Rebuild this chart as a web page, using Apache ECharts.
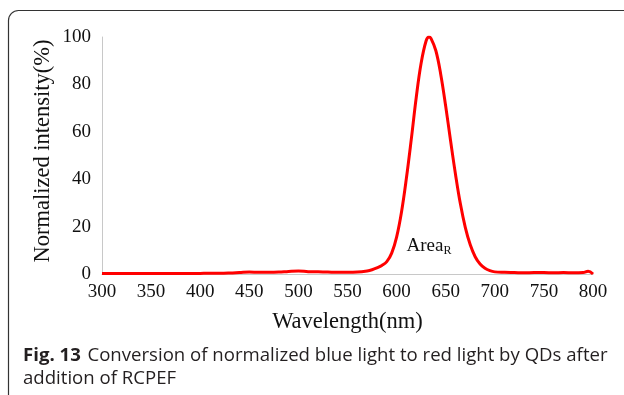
<!DOCTYPE html>
<html><head><meta charset="utf-8">
<script src="https://cdn.jsdelivr.net/npm/echarts@6/dist/echarts.min.js"></script>
<style>html,body{margin:0;padding:0;background:#fff}#c{width:624px;height:395px}</style>
</head><body><div id="c"></div>
<script>
const wavelengths = [300,310,320,330,340,350,360,370,380,390,400,410,420,430,440,450,460,470,480,490,500,510,520,530,540,550,560,570,575,580,585,590,595,600,605,610,615,620,625,630,633,635,640,645,650,655,660,665,670,675,680,685,690,695,700,710,720,730,740,750,760,770,780,790,795,800];
const intensity = [0.2,0.2,0.2,0.2,0.2,0.2,0.2,0.2,0.2,0.2,0.25,0.3,0.3,0.4,0.6,0.8,0.7,0.7,0.8,1.1,1.3,1.0,0.9,0.8,0.7,0.7,0.8,1.3,1.8,2.6,3.6,5.2,8.8,15.6,26.2,40.5,57.0,74.5,89.0,98.3,100,99.4,94.2,84.1,70.8,56.1,42.0,29.5,19.6,12.3,7.3,4.2,2.4,1.4,0.9,0.7,0.6,0.5,0.6,0.6,0.5,0.6,0.5,0.6,1.2,0];
const xTicks = {min:300, max:800, step:50};
const yTicks = {min:0, max:100, step:20};
const xName = 'Wavelength(nm)';
const yName = 'Normalized intensity(%)';
const annotation = {text:'Area', sub:'R', x:633, y:12};
const captionBold = 'Fig. 13';
const captionLine1 = 'Conversion of normalized blue light to red light by QDs after';
const captionLine2 = 'addition of RCPEF';

const chart = echarts.init(document.getElementById('c'), null, {renderer:'canvas'});
const serif = 'Liberation Serif';
const sans = 'Open Sans';
chart.setOption({
  animation:false,
  textStyle:{fontFamily:serif},
  grid:{left:102, right:31, top:37, bottom:121},
  xAxis:{type:'value', min:xTicks.min, max:xTicks.max, interval:xTicks.step,
    name:xName, nameLocation:'middle', nameGap:37,
    nameTextStyle:{fontFamily:serif, fontSize:22.5, color:'#111'},
    axisLine:{lineStyle:{color:'#c8c8c8', width:1}}, axisTick:{show:false},
    splitLine:{show:false},
    axisLabel:{fontFamily:serif, fontSize:19, color:'#111', margin:9}},
  yAxis:{type:'value', min:yTicks.min, max:yTicks.max, interval:yTicks.step,
    axisLine:{show:true, lineStyle:{color:'#c8c8c8', width:1}}, axisTick:{show:false},
    splitLine:{show:false},
    axisLabel:{fontFamily:serif, fontSize:19, color:'#111', margin:11}},
  series:[{type:'line', data:wavelengths.map((w,i)=>[w,intensity[i]]), smooth:0.4,
    showSymbol:false, lineStyle:{color:'#ff0000', width:3}}]
});
const p = chart.convertToPixel({gridIndex:0}, [annotation.x, annotation.y]);
chart.setOption({graphic:[
  {type:'rect', shape:{x:8.5, y:10.5, width:700, height:500, r:[10,0,0,0]}, style:{fill:null, stroke:'#333', lineWidth:1.2}, silent:true},
  {type:'text', x:43, y:151, rotation:Math.PI/2, style:{text:yName, align:'center', verticalAlign:'middle', fontFamily:serif, fontSize:22.5, fill:'#111'}},
  {type:'text', x:p[0], y:p[1], style:{text:'{a|'+annotation.text+'}{b|'+annotation.sub+'}', align:'center', verticalAlign:'middle',
    rich:{a:{fontFamily:serif, fontSize:19, fill:'#111'}, b:{fontFamily:serif, fontSize:12, fill:'#111', padding:[11,0,0,0]}}}},
  {type:'text', x:23, y:356, style:{text:'{b|'+captionBold+'}  {r|'+captionLine1+'}', verticalAlign:'middle',
    rich:{b:{fontFamily:sans, fontSize:18.6, fontWeight:'bold', fill:'#231f20'}, r:{fontFamily:sans, fontSize:18.6, fill:'#231f20'}}}},
  {type:'text', x:23, y:379, style:{text:captionLine2, verticalAlign:'middle', fontFamily:sans, fontSize:18.6, fill:'#231f20'}}
]});
</script></body></html>
